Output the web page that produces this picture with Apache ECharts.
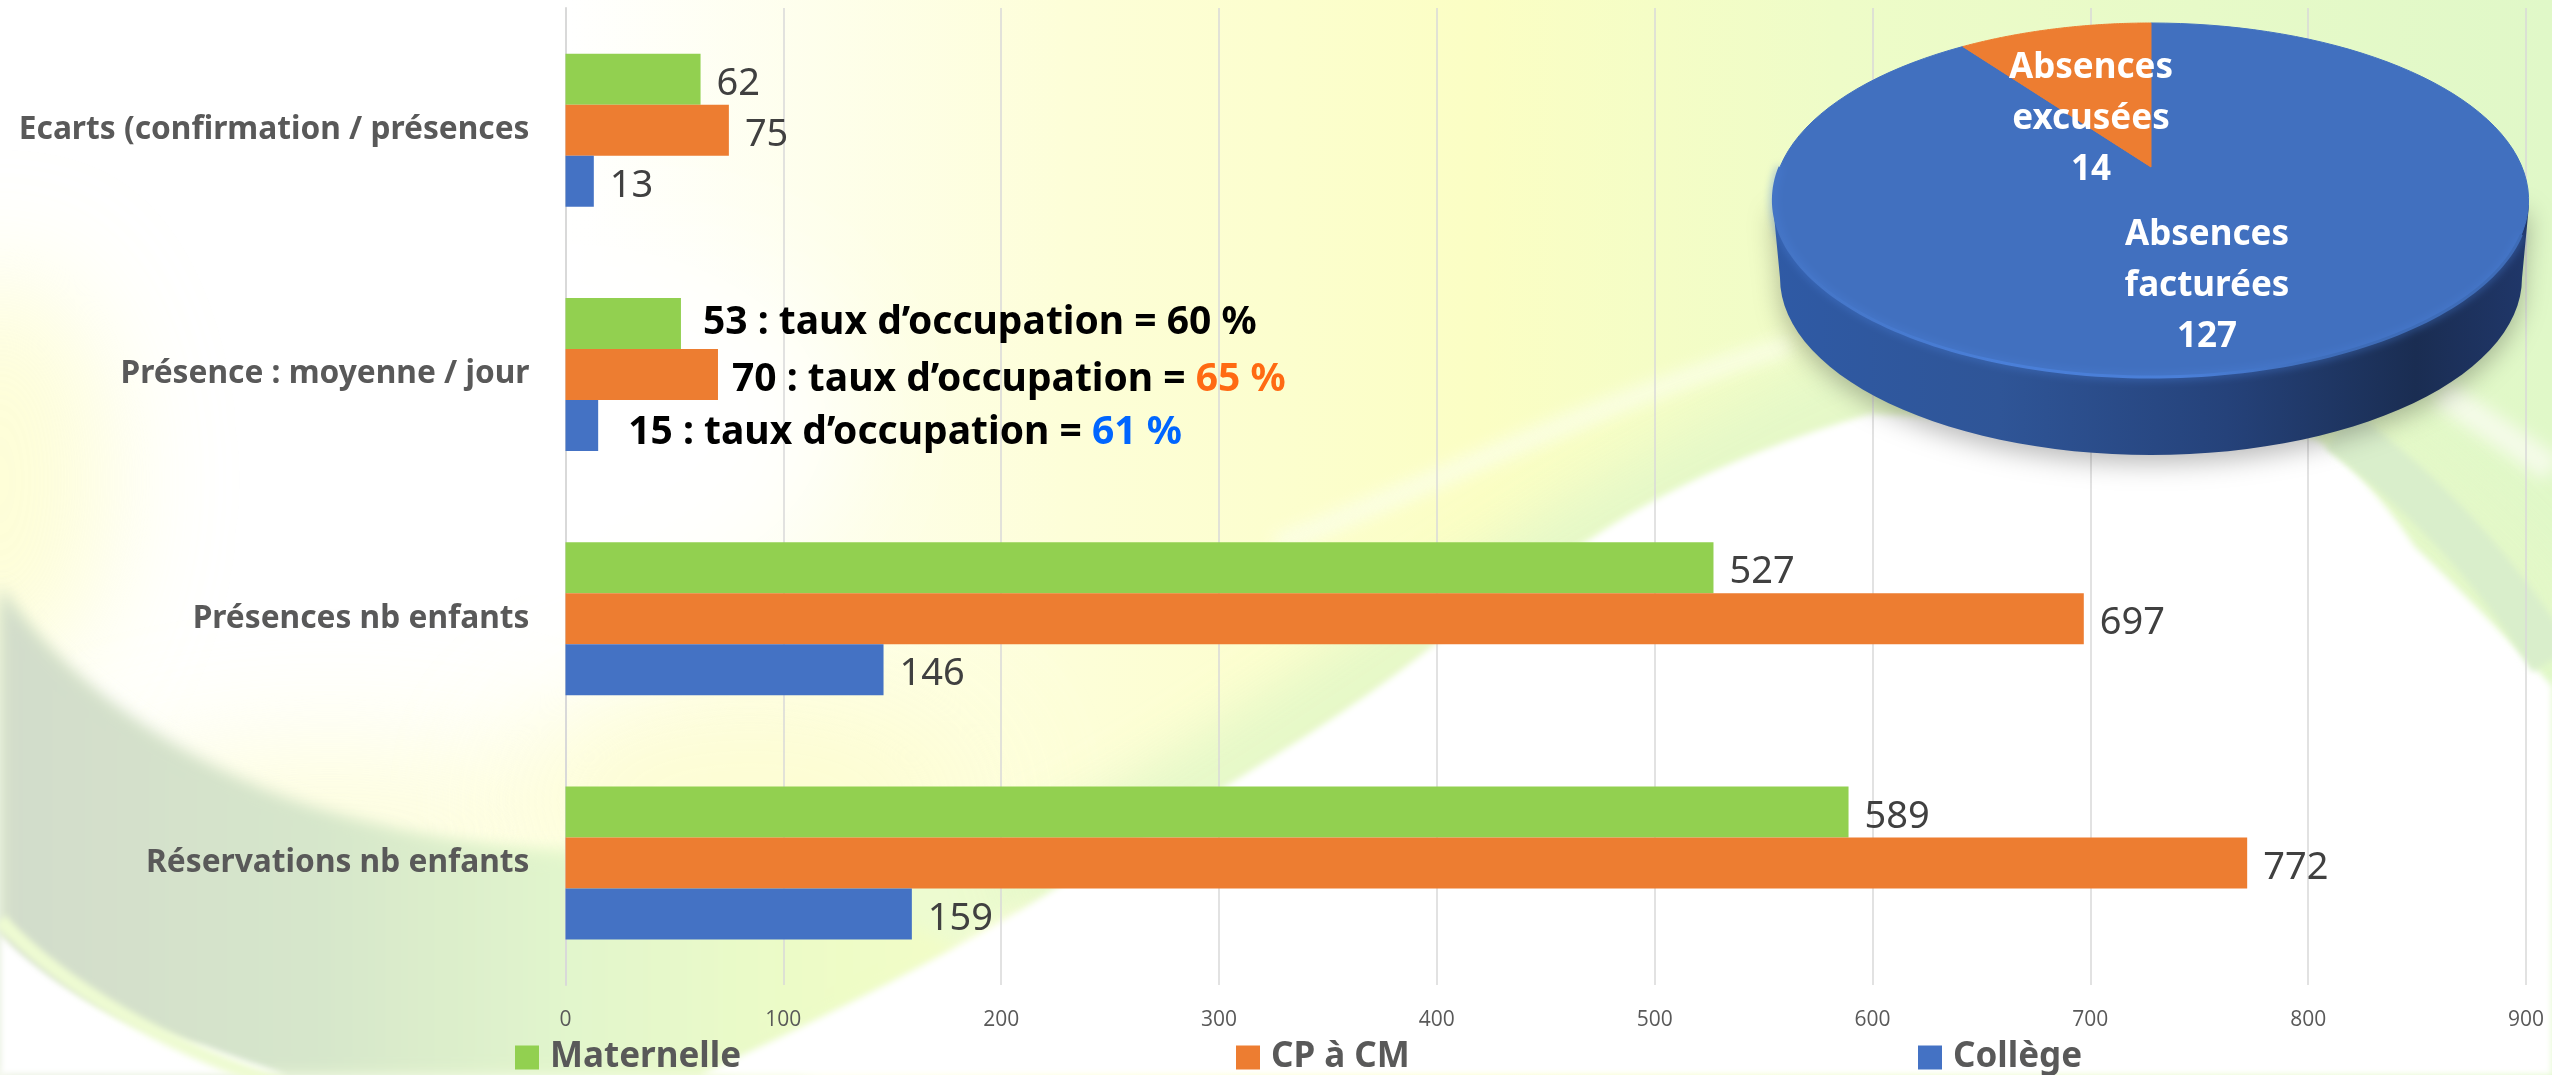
<!DOCTYPE html>
<html lang="fr">
<head>
<meta charset="utf-8">
<title>Présences et réservations</title>
<script src="https://cdn.jsdelivr.net/npm/echarts@6/dist/echarts.min.js"></script>
<style>
html,body{margin:0;padding:0;width:2552px;height:1075px;overflow:hidden;background:#fff}
#bg{position:absolute;left:0;top:0}
#chart{position:absolute;left:0;top:0;width:2552px;height:1075px}
</style>
</head>
<body>
<svg id="bg" width="2552" height="1075" viewBox="0 0 2552 1075" xmlns="http://www.w3.org/2000/svg">
  <defs>
    <linearGradient id="base" x1="0" y1="0" x2="1" y2="0">
      <stop offset="0" stop-color="#ffffff"/>
      <stop offset="0.22" stop-color="#ffffff"/>
      <stop offset="0.42" stop-color="#fdfed8"/>
      <stop offset="0.58" stop-color="#fbfec4"/>
      <stop offset="0.72" stop-color="#eefcc8"/>
      <stop offset="1" stop-color="#e0f8c8"/>
    </linearGradient>
    <linearGradient id="sw" gradientUnits="userSpaceOnUse" x1="0" y1="0" x2="1050" y2="0">
      <stop offset="0" stop-color="#d2dccb"/>
      <stop offset="0.3" stop-color="#d6e6cb"/>
      <stop offset="0.55" stop-color="#e2f6cc"/>
      <stop offset="0.8" stop-color="#eefcc6"/>
      <stop offset="1" stop-color="#f6fdc8"/>
    </linearGradient>
    <filter id="b3" x="-30%" y="-30%" width="160%" height="160%"><feGaussianBlur stdDeviation="3"/></filter>
    <filter id="b8" x="-30%" y="-30%" width="160%" height="160%"><feGaussianBlur stdDeviation="8"/></filter>
    <filter id="b25" x="-30%" y="-30%" width="160%" height="160%"><feGaussianBlur stdDeviation="25"/></filter>
    <filter id="b60" x="-100%" y="-100%" width="300%" height="300%"><feGaussianBlur stdDeviation="60"/></filter>
  </defs>
  <rect width="2552" height="1075" fill="url(#base)"/>
  <ellipse cx="0" cy="480" rx="110" ry="210" fill="#fdfdc8" filter="url(#b60)" opacity="0.75"/>
  <ellipse cx="330" cy="830" rx="280" ry="90" fill="#fdfdd0" filter="url(#b60)" opacity="0.7"/>
  <ellipse cx="750" cy="800" rx="240" ry="120" fill="#fdfdd0" filter="url(#b60)" opacity="0.9"/>
  <ellipse cx="560" cy="420" rx="280" ry="180" fill="#ffffff" filter="url(#b60)"/>
  <path d="M0,590 C60,680 130,740 230,790 C330,840 450,850 620,850 C800,850 950,820 1060,870 L800,1075 L0,1075 Z" fill="#edfbd0" filter="url(#b8)"/>
  <path d="M0,585 C60,680 190,770 325,810 C420,838 500,850 600,860 C760,880 880,900 960,950 L720,1075 L0,1075 Z" fill="url(#sw)" filter="url(#b8)"/>
  <path d="M0,934 C50,985 130,1030 203,1046 L285,1075 L0,1075 Z" fill="#ffffff" filter="url(#b3)"/>
  <path d="M0,920 C60,985 170,1050 285,1085" fill="none" stroke="#eefbd2" stroke-width="14" filter="url(#b3)"/>
  <path d="M1010,900 C1250,800 1500,560 1880,400 C2080,330 2320,360 2552,640" fill="none" stroke="#e4f8c8" stroke-width="110" filter="url(#b25)" opacity="0.9"/>
  <path d="M1276,545 C1420,490 1600,400 1790,345" fill="none" stroke="#fbfee8" stroke-width="20" filter="url(#b8)" opacity="0.8"/>
  <path d="M700,1075 C820,1020 960,950 1058,887 C1150,835 1220,790 1276,755 C1340,715 1390,680 1439,641 C1500,600 1550,565 1601,532 C1680,480 1780,440 1870,414 L2200,430 C2250,430 2290,432 2317,440 C2360,470 2390,510 2415,547 C2460,590 2510,640 2552,686 L2552,1075 Z" fill="#ffffff" filter="url(#b3)"/>
  <path d="M2340,430 C2420,490 2490,560 2552,660" fill="none" stroke="#d9eecb" stroke-width="46" filter="url(#b3)"/>
  <path d="M2440,392 C2480,420 2520,445 2552,470" fill="none" stroke="#f4fbe8" stroke-width="28" filter="url(#b8)"/>
</svg>
<div id="chart"></div>
<script>
// ---- données (ordre de l'axe : du bas vers le haut) ----
const categories = ['Réservations nb enfants', 'Présences nb enfants', 'Présence : moyenne / jour', 'Ecarts (confirmation / présences'];
const maternelle = [589, 527, 53, 62];
const cpCm = [772, 697, 70, 75];
const college = [159, 146, 15, 13];
const tauxMaternelle = 60;
const tauxCpCm = 65;
const tauxCollege = 61;
const legendNames = ['Maternelle', 'CP à CM', 'Collège'];
const absenceNames = ['Absences\nfacturées', 'Absences\nexcusées'];
const absenceValues = [127, 14];
const xTicks = { min: 0, max: 900, interval: 100 };

// ---- styles ----
const LABEL_FONT = '"Noto Sans", sans-serif';
const GREEN = '#92d050', ORANGE = '#ed7d31', BLUE = '#4472c4';
const TAUX_ROW = 2;

function barData(values, taux, tauxColor, tauxOffset) {
  return values.map(function (v, i) {
    if (i !== TAUX_ROW) return v;
    return {
      value: v,
      label: {
        distance: 22, offset: tauxOffset,
        formatter: '{t|' + v + ' : taux d’occupation = }{p|' + taux + ' %}',
        rich: {
          t: { fontFamily: LABEL_FONT, fontWeight: 'bold', fontSize: 39, color: '#000' },
          p: { fontFamily: LABEL_FONT, fontWeight: 'bold', fontSize: 39, color: tauxColor }
        }
      }
    };
  });
}
function barSeries(name, values, color, taux, tauxColor, tauxOffset) {
  return {
    name: name, type: 'bar', barWidth: 51, barGap: '0%',
    data: barData(values, taux, tauxColor, tauxOffset),
    itemStyle: { color: color },
    label: {
      show: true, position: 'right', distance: 16, offset: [0, 5],
      fontFamily: LABEL_FONT, fontSize: 38, color: '#404040'
    }
  };
}

// ---- camembert 3D : projection d'un cercle en perspective ----
const PIE = { cx: 2151, cy: 200, rx: 371, ry: 177, d: 33, k: 0.1864, depth: 78 };
function project(theta, r) {
  const u = Math.sin(theta) * r, v = Math.cos(theta) * r, w = 1 + PIE.k * v;
  return [PIE.cx + PIE.rx * u / w, PIE.cy - (PIE.ry * v + PIE.d) / w];
}
function arcPoints(a0, a1, n) {
  const pts = [];
  for (let i = 0; i <= n; i++) pts.push(project(a0 + (a1 - a0) * i / n, 1));
  return pts;
}
const LABEL_POS = [[2207, 286], [2091, 119]];
function renderPie(params, api) {
  const i = params.dataIndex;
  const total = absenceValues.reduce(function (a, b) { return a + b; }, 0);
  let start = 0;
  for (let j = 0; j < i; j++) start += absenceValues[j];
  const v = api.value(0);
  const a0 = start / total * 2 * Math.PI, a1 = (start + v) / total * 2 * Math.PI;
  const children = [];
  if (i === 0) {
    const wall = [[PIE.cx - 378, PIE.cy + 5]];
    for (let t = 0; t <= 60; t++) {
      const a = Math.PI * t / 60;
      wall.push([PIE.cx - 371 * Math.cos(a), PIE.cy + PIE.depth + 177 * Math.sin(a)]);
    }
    wall.push([PIE.cx + 378, PIE.cy + 5]);
    children.push({
      type: 'polygon', shape: { points: wall },
      style: {
        fill: new echarts.graphic.LinearGradient(0, 0, 1, 0, [
          { offset: 0, color: '#2f5aa5' }, { offset: 0.3, color: '#2f5597' },
          { offset: 0.6, color: '#25427a' }, { offset: 0.85, color: '#1a2d52' }, { offset: 1, color: '#20376a' }
        ]),
        shadowBlur: 26, shadowColor: 'rgba(0,0,0,0.28)', shadowOffsetY: 8
      }
    });
  }
  const pts = [project(0, 0)].concat(arcPoints(a0, a1, 120));
  children.push({
    type: 'polygon', shape: { points: pts },
    style: { fill: i === 0 ? '#4170bf' : ORANGE, stroke: i === 0 ? '#4170bf' : ORANGE, lineWidth: 1 }
  });
  if (i === 0) {
    children.push({
      type: 'polyline', shape: { points: arcPoints(Math.PI * 0.62, Math.PI * 1.5, 120) },
      style: {
        fill: null, lineWidth: 3, shadowBlur: 8, shadowColor: '#4a7fd8',
        stroke: new echarts.graphic.LinearGradient(0, 0, 1, 0, [
          { offset: 0, color: '#4474c4' }, { offset: 0.3, color: '#4a7fd8' }, { offset: 0.55, color: '#4a7fd8' },
          { offset: 0.75, color: '#3e6cb8' }, { offset: 1, color: '#3e6cb8' }
        ])
      }
    });
  }
  const labelChild = {
    type: 'text', z2: 10,
    style: {
      x: LABEL_POS[i][0], y: LABEL_POS[i][1],
      text: absenceNames[i] + '\n' + v,
      align: 'center', verticalAlign: 'middle',
      fontFamily: LABEL_FONT, fontWeight: 'bold', fontSize: 35, lineHeight: 51, fill: '#fff'
    }
  };
  return { type: 'group', children: children.concat([labelChild]) };
}

function legendAt(name, left) {
  return {
    data: [name], left: left, top: 1040, padding: 0, itemWidth: 24, itemHeight: 24, itemGap: 0,
    icon: 'rect', selectedMode: false,
    textStyle: { fontFamily: LABEL_FONT, fontWeight: 'bold', fontSize: 35, color: '#595959', padding: [8, 0, 0, 6] }
  };
}

const chart = echarts.init(document.getElementById('chart'), null, { renderer: 'canvas' });
chart.setOption({
  backgroundColor: 'transparent',
  animation: false,
  grid: { left: 565.5, right: 26, top: 8, bottom: 90, containLabel: false },
  legend: [legendAt(legendNames[0], 515), legendAt(legendNames[1], 1236), legendAt(legendNames[2], 1918)],
  xAxis: {
    type: 'value', min: xTicks.min, max: xTicks.max, interval: xTicks.interval,
    axisLine: { show: false }, axisTick: { show: false },
    splitLine: { lineStyle: { color: '#d9d9d9', width: 1.5 } },
    axisLabel: { margin: 25, fontFamily: '"Open Sans", sans-serif', fontSize: 21, color: '#595959' }
  },
  yAxis: {
    type: 'category', data: categories,
    axisLine: { lineStyle: { color: '#d9d9d9', width: 2 } }, axisTick: { show: false },
    axisLabel: { margin: 36, padding: [4, 0, 0, 0], fontFamily: LABEL_FONT, fontWeight: 'bold', fontSize: 31.7, color: '#595959' }
  },
  series: [
    barSeries(legendNames[0], maternelle, GREEN, tauxMaternelle, '#000', [0, 0]),
    barSeries(legendNames[1], cpCm, ORANGE, tauxCpCm, '#ff6a13', [-8, 6]),
    barSeries(legendNames[2], college, BLUE, tauxCollege, '#0066ff', [8, 8]),
    {
      type: 'custom', coordinateSystem: 'none', name: 'Absences', z: 20,
      data: absenceValues.map(function (v) { return [v]; }),
      encode: { value: 0 },
      renderItem: renderPie
    }
  ]
});
</script>
</body>
</html>
